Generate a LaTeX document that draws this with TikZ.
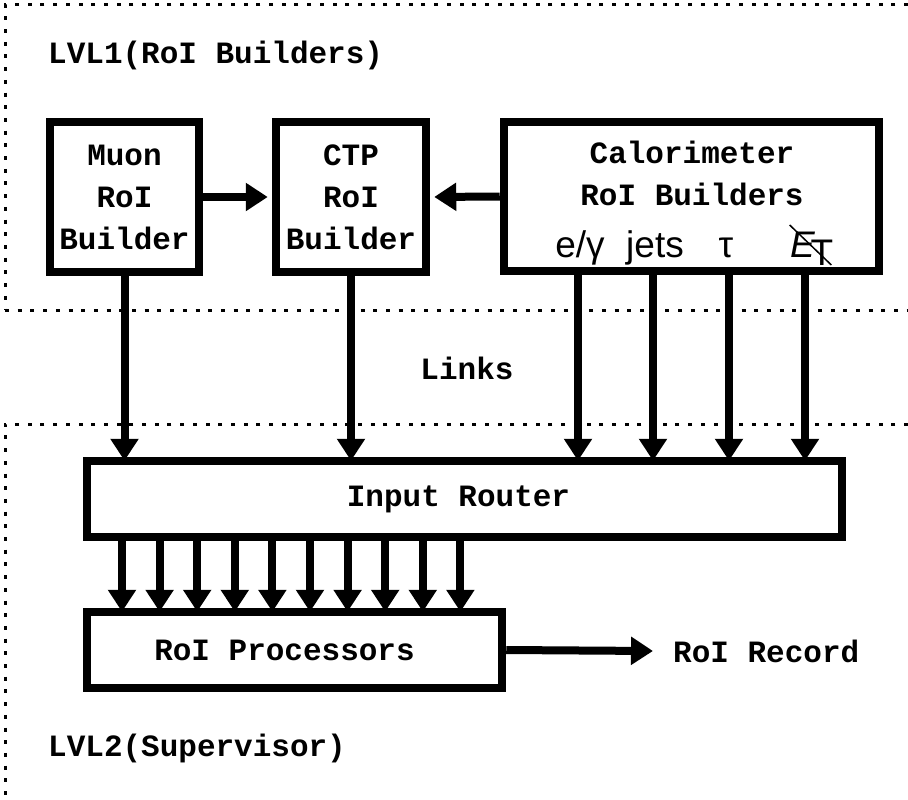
\documentclass[tikz,border=0pt]{standalone}
\usepackage{fontspec}
\setmonofont{Liberation Mono}
\newfontfamily\helv{Liberation Sans}
\usetikzlibrary{arrows.meta,calc}

\tikzset{
  cour/.style={font=\ttfamily\bfseries\fontsize{31}{42}\selectfont, inner sep=0pt},
  greek/.style={font=\helv\fontsize{37}{40}\selectfont, inner sep=0pt, anchor=base},
  blockbox/.style={draw, line width=8.5pt, inner sep=0pt, align=center,
    font=\ttfamily\bfseries\fontsize{31}{42}\selectfont},
  flow/.style={line width=8pt, -{Triangle[length=22pt,width=27pt]}},
  border/.style={line width=3pt, dash pattern=on 4pt off 8.7pt}
}

\begin{document}
\begin{tikzpicture}[x=1pt, y=-1pt]
\useasboundingbox (0,0) rectangle (908,800);

% dotted region outlines
\draw[border] (908,5) -- (5,5) -- (5,310);
\draw[border] (5,310) -- (908,310);
\draw[border] (908,424) -- (5,424) -- (5,800);

% region titles
\node[cour, anchor=west] (lvl1) at (48,55) {LVL1(RoI Builders)};
\node[cour, anchor=west] (lvl2) at (48,748) {LVL2(Supervisor)};
\node[cour] (links) at (467,368) {Links};

% LVL1 builders
\node[blockbox, minimum width=149pt, minimum height=150pt] (muon) at (124.5,197) {Muon\\RoI\\Builder};
\node[blockbox, minimum width=150pt, minimum height=150pt] (ctp) at (351,197) {CTP\\RoI\\Builder};
\node[blockbox, minimum width=375pt, minimum height=149pt] (calo) at (691.5,196.5) {};
\node[cour, align=center] (calot) at (692,173) {Calorimeter\\RoI Builders};

% calorimeter outputs
\node[greek] (eg) at (580,257) {e/γ};
\node[greek] (jets) at (655,257) {jets};
\node[greek] (tau) at (726,257) {τ};
\node[greek] (et) at (812,257) {{\itshape E}\kern-5pt\raisebox{-8pt}{T}};
\draw[line width=1.5pt] ($(et.base west)+(-1,-32)$) -- ($(et.base east)+(-2,8)$);

\coordinate (p1) at (578,271);
\coordinate (p2) at (653,271);
\coordinate (p3) at (729,271);
\coordinate (p4) at (805,271);

% LVL2 blocks
\node[blockbox, minimum width=755pt, minimum height=76pt] (router) at (464.5,499) {\hspace*{-12pt}Input Router};
\node[blockbox, minimum width=415pt, minimum height=76pt] (proc) at (294.5,650) {\hspace*{-20pt}RoI Processors};
\node[cour, anchor=west] (record) at (673,651) {RoI Record};
\coordinate (rectip) at (653,651);

% builder links
\draw[flow, shorten >=4pt] (muon.east) -- (ctp.west);
\draw[flow, shorten >=4pt] (calo.west) -- (ctp.east);

% links into the router
\draw[flow, shorten >=-4pt] (muon.south) -- (muon.south |- router.north);
\draw[flow, shorten >=-4pt] (ctp.south) -- (ctp.south |- router.north);
\foreach \p in {p1,p2,p3,p4}
  \draw[flow, shorten >=-4pt] (\p) -- (\p |- router.north);

% router to processors
\foreach \i in {0,...,9}{
  \coordinate (r\i) at ($(122+37.6*\i, 0)$);
  \draw[flow, shorten >=-4pt] (r\i |- router.south) -- (r\i |- proc.north);
}

% processors to record
\draw[flow] (proc.east) -- (rectip);
\end{tikzpicture}
\end{document}
